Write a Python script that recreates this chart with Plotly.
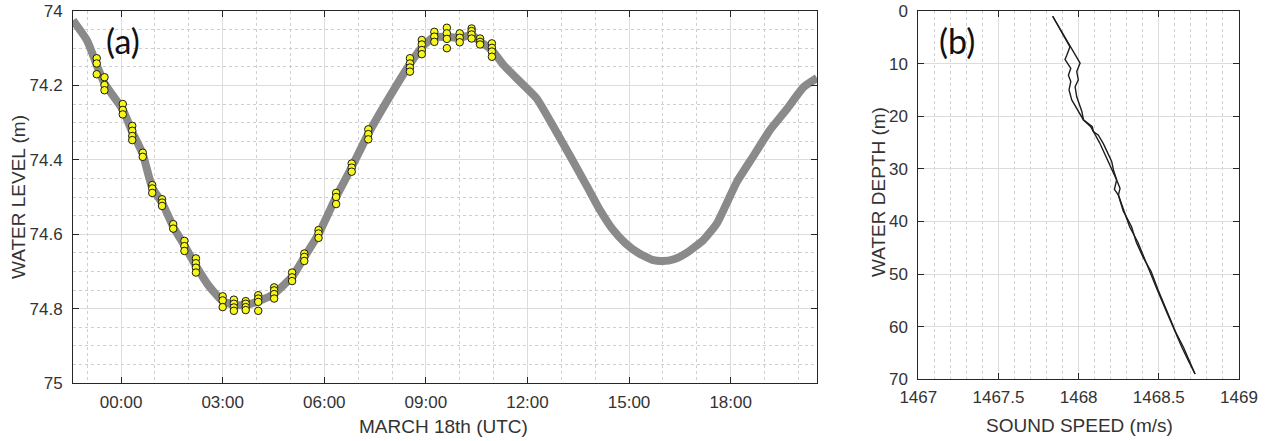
import plotly.graph_objects as go
import pandas as pd

# ---------------- data: panel (a) water level ----------------
# hours relative to 2014-03-18 00:00 UTC, water level (m)
level_hours = [-1.42, -1.0, -0.72, -0.49, 0.05, 0.33, 0.64, 0.92, 1.21, 1.54, 1.87, 2.21,
               2.6, 3.0, 3.35, 3.69, 4.05, 4.52, 5.07, 5.41, 5.83, 6.35, 6.81, 7.30, 7.9,
               8.51, 8.91, 9.24, 9.62, 10.0, 10.35, 10.6, 10.95, 11.29, 11.78, 12.27, 12.76,
               13.26, 13.75, 14.14, 14.5, 14.9, 15.3, 15.72, 16.0, 16.3, 16.7, 17.2, 17.6,
               18.18, 18.67, 19.16, 19.65, 20.15, 20.55]
level_values = [74.025, 74.08, 74.145, 74.195, 74.265, 74.325, 74.385, 74.475, 74.515, 74.58,
                74.63, 74.685, 74.74, 74.78, 74.79, 74.79, 74.78, 74.76, 74.712, 74.662, 74.60,
                74.50, 74.42, 74.33, 74.235, 74.145, 74.095, 74.07, 74.07, 74.072, 74.065,
                74.082, 74.105, 74.145, 74.19, 74.235, 74.31, 74.39, 74.47, 74.535, 74.585,
                74.625, 74.652, 74.67, 74.672, 74.668, 74.65, 74.615, 74.57, 74.46, 74.39,
                74.32, 74.265, 74.205, 74.18]

# yellow sample points (hours, level)
dot_hours = [-0.72, -0.72, -0.72,
             -0.49, -0.49, -0.49,
             0.05, 0.05, 0.05,
             0.33, 0.33, 0.33, 0.33,
             0.64, 0.64,
             0.92, 0.92, 0.92,
             1.21, 1.21, 1.21,
             1.54, 1.54,
             1.87, 1.87, 1.87,
             2.21, 2.21, 2.21, 2.21,
             3.0, 3.0, 3.0,
             3.33, 3.33, 3.33, 3.33,
             3.68, 3.68, 3.68, 3.68,
             4.05, 4.05, 4.05, 4.05,
             4.52, 4.52, 4.52, 4.52,
             5.05, 5.05, 5.05,
             5.41, 5.41, 5.41,
             5.83, 5.83, 5.83,
             6.35, 6.35, 6.35,
             6.81, 6.81, 6.81,
             7.30, 7.30, 7.30,
             8.53, 8.53, 8.53, 8.53,
             8.88, 8.88, 8.88, 8.88,
             9.25, 9.25, 9.25,
             9.62, 9.62, 9.62, 9.62,
             10.0, 10.0, 10.0,
             10.35, 10.35, 10.35, 10.35,
             10.6, 10.6, 10.6,
             10.95, 10.95, 10.95, 10.95]
dot_levels = [74.127, 74.141, 74.170,
              74.178, 74.199, 74.213,
              74.250, 74.266, 74.278,
              74.309, 74.322, 74.336, 74.347,
              74.381, 74.392,
              74.468, 74.477, 74.489,
              74.506, 74.515, 74.524,
              74.573, 74.585,
              74.618, 74.632, 74.645,
              74.665, 74.678, 74.690, 74.703,
              74.767, 74.778, 74.796,
              74.776, 74.787, 74.797, 74.806,
              74.780, 74.787, 74.796, 74.804,
              74.764, 74.773, 74.782, 74.806,
              74.743, 74.751, 74.761, 74.773,
              74.703, 74.716, 74.726,
              74.652, 74.661, 74.672,
              74.589, 74.598, 74.610,
              74.489, 74.500, 74.519,
              74.410, 74.421, 74.432,
              74.318, 74.331, 74.345,
              74.127, 74.141, 74.152, 74.163,
              74.078, 74.090, 74.105, 74.116,
              74.056, 74.069, 74.083,
              74.045, 74.060, 74.075, 74.100,
              74.060, 74.072, 74.084,
              74.047, 74.054, 74.063, 74.074,
              74.074, 74.083, 74.090,
              74.087, 74.099, 74.109, 74.123]

# ---------------- data: panel (b) sound speed profiles ----------------
depth_a = [1.0, 6.8, 8.4, 9.2, 10.9, 12.2, 13.4, 15.0, 16.9, 19.1, 20.7, 22.0, 22.9, 25.0,
           28.0, 30.2, 32.1, 33.9, 35.0, 38.0, 41.0, 44.0, 47.0, 49.5, 53.0, 57.0, 61.0,
           64.0, 66.5, 69.0]
speed_a = [1467.838, 1467.946, 1467.926, 1467.915, 1467.951, 1467.936, 1467.951, 1467.940,
           1467.957, 1467.998, 1468.030, 1468.085, 1468.092, 1468.130, 1468.175, 1468.213,
           1468.237, 1468.223, 1468.248, 1468.283, 1468.318, 1468.370, 1468.410, 1468.440,
           1468.490, 1468.546, 1468.602, 1468.645, 1468.685, 1468.726]
depth_b = [1.0, 6.8, 9.9, 11.5, 13.1, 14.4, 16.3, 19.1, 20.7, 22.0, 22.9, 23.6, 25.2, 28.6,
           30.2, 32.1, 33.7, 35.0, 38.0, 41.0, 44.0, 47.0, 49.5, 53.0, 57.0, 61.0, 64.0,
           66.5, 69.0]
speed_b = [1467.838, 1467.946, 1468.009, 1467.988, 1467.998, 1467.978, 1467.988, 1468.020,
           1468.030, 1468.075, 1468.092, 1468.123, 1468.154, 1468.206, 1468.217, 1468.237,
           1468.258, 1468.248, 1468.278, 1468.330, 1468.360, 1468.405, 1468.452, 1468.495,
           1468.550, 1468.605, 1468.655, 1468.690, 1468.726]

# axis ranges
time_range_hours = [-1.42, 20.55]
level_range = [75, 74]
speed_range = [1467, 1469]
depth_range = [70, 0]

BASE = pd.Timestamp("2014-03-18 00:00")


def to_time(hours):
    return [BASE + pd.Timedelta(hours=h) for h in hours]


W, H = 1278, 441
FONT = "Liberation Sans, Arial, sans-serif"
AX = "#262626"
TXT = "#333333"

fig = go.Figure()
fig.add_trace(go.Scatter(
    x=to_time(level_hours), y=level_values, mode="lines",
    line=dict(color="#8a8a8a", width=8, shape="spline", smoothing=0.5),
    xaxis="x", yaxis="y", hoverinfo="skip", showlegend=False))
fig.add_trace(go.Scatter(
    x=to_time(dot_hours), y=dot_levels, mode="markers",
    marker=dict(size=7.5, color="#f7f71c", line=dict(color="#1a1a1a", width=1)),
    xaxis="x", yaxis="y", showlegend=False))
fig.add_trace(go.Scatter(
    x=speed_a, y=depth_a, mode="lines", line=dict(color="#1e1e1e", width=1.4),
    xaxis="x2", yaxis="y2", showlegend=False))
fig.add_trace(go.Scatter(
    x=speed_b, y=depth_b, mode="lines", line=dict(color="#1e1e1e", width=1.4),
    xaxis="x2", yaxis="y2", showlegend=False))


def axis_style(**kw):
    d = dict(showline=True, linecolor=AX, linewidth=1, mirror="ticks",
             ticks="inside", ticklen=6, tickcolor=AX, tickwidth=1, automargin=False,
             showgrid=True, gridcolor="#dcdcdc", gridwidth=1, zeroline=False,
             tickfont=dict(family=FONT, size=17, color=TXT))
    d.update(kw)
    return d


minor_dot = dict(showgrid=True, griddash="dot", gridcolor="#cfcfcf", gridwidth=1, ticks="")

fig.update_layout(
    width=W, height=H, margin=dict(l=0, r=0, t=0, b=0, autoexpand=False),
    paper_bgcolor="white", plot_bgcolor="white", showlegend=False,
    xaxis=axis_style(
        type="date", domain=[73 / W, 817 / W], anchor="y",
        range=[str(t) for t in to_time(time_range_hours)],
        tick0=str(BASE), dtick=3 * 3600 * 1000, tickformat="%H:%M",
        ticklabelstandoff=4,
        minor=dict(dtick=3600 * 1000, **minor_dot)),
    yaxis=axis_style(
        domain=[1 - 383 / H, 1 - 11 / H], anchor="x", range=level_range,
        tick0=74, dtick=0.2, ticklabelstandoff=6, minor=dict(dtick=0.05, **minor_dot)),
    xaxis2=axis_style(
        domain=[918.3 / W, 1239 / W], anchor="y2", range=speed_range,
        tick0=1467, dtick=0.5, tickformat=".1~f", ticklabelstandoff=2,
        minor=dict(dtick=0.1, **minor_dot)),
    yaxis2=axis_style(
        domain=[1 - 379.3 / H, 1 - 11 / H], anchor="x2", range=depth_range,
        tick0=0, dtick=10, ticklabelstandoff=6),
)

title_font = dict(family=FONT, size=19, color=TXT)
panel_font = dict(family="Lato, Open Sans, sans-serif", size=34, color="#111111")
fig.add_annotation(text="MARCH 18th (UTC)", x=443 / W, y=1 - 426 / H, xref="paper", yref="paper",
                   showarrow=False, font=title_font, xanchor="center", yanchor="middle")
fig.add_annotation(text="WATER LEVEL (m)", x=18 / W, y=1 - 197 / H, xref="paper", yref="paper",
                   showarrow=False, font=title_font, textangle=-90, xanchor="center", yanchor="middle")
fig.add_annotation(text="SOUND SPEED (m/s)", x=1079 / W, y=1 - 425 / H, xref="paper", yref="paper",
                   showarrow=False, font=title_font, xanchor="center", yanchor="middle")
fig.add_annotation(text="WATER DEPTH (m)", x=878 / W, y=1 - 192 / H, xref="paper", yref="paper",
                   showarrow=False, font=title_font, textangle=-90, xanchor="center", yanchor="middle")
fig.add_annotation(text="(a)", x=123 / W, y=1 - 40 / H, xref="paper", yref="paper",
                   showarrow=False, font=panel_font, xanchor="center", yanchor="middle")
fig.add_annotation(text="(b)", x=957 / W, y=1 - 40 / H, xref="paper", yref="paper",
                   showarrow=False, font=panel_font, xanchor="center", yanchor="middle")

fig.write_html("out.html")
